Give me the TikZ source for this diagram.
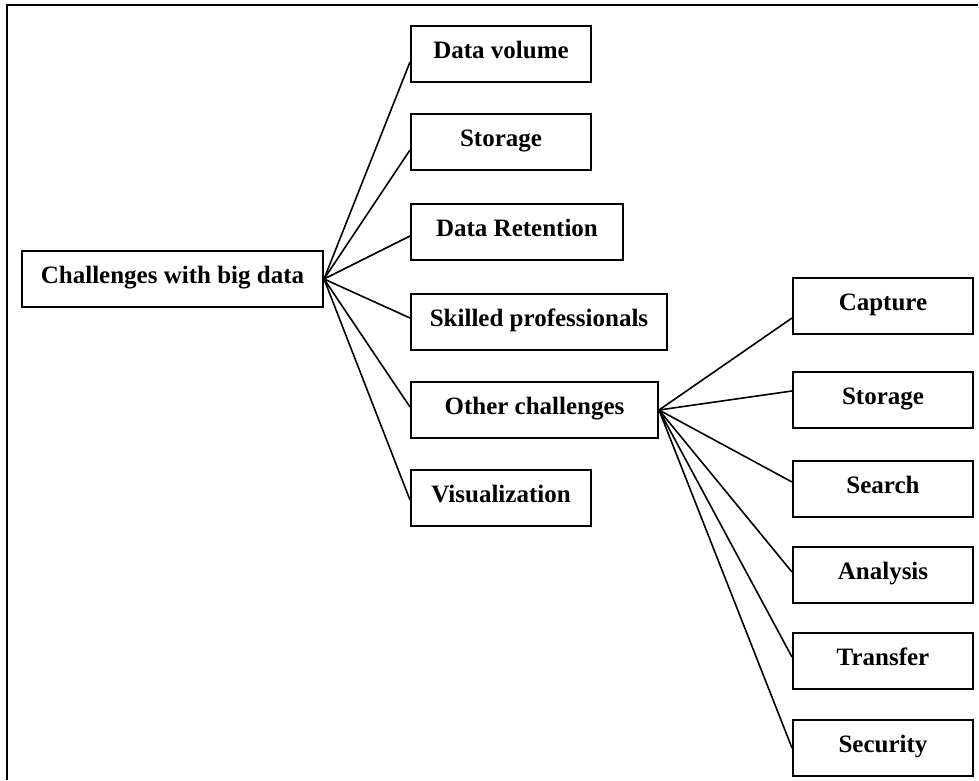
\documentclass[tikz,border=0pt]{standalone}
\usepackage{fontspec}
\setmainfont{Liberation Serif}
\usepackage{tikz}

\begin{document}
\begin{tikzpicture}[x=1pt, y=-1pt,
        box/.style={rectangle, draw, line width=2pt, inner xsep=0pt, inner ysep=1pt,
            text height=31pt, text depth=23pt, align=center,
            font=\fontsize{25}{28}\selectfont\bfseries},
        link/.style={line width=1.6pt}]
            \useasboundingbox (0,0) rectangle (979,780);
            % frame
            \draw[line width=2.6pt] (7,780) -- (7,5) -- (978,5);

            % root
            \node[box, minimum width=301pt] (root) at (172.5, 279) {Challenges with big data};

            % first level
            \node[box, anchor=west, minimum width=180pt] (vol) at (410, 54) {Data volume};
            \node[box, anchor=west, minimum width=180pt] (sto) at (410, 142) {Storage};
            \node[box, anchor=west, minimum width=212pt] (ret) at (410, 232) {Data Retention};
            \node[box, anchor=west, minimum width=256pt] (pro) at (410, 322) {Skilled professionals};
            \node[box, anchor=west, minimum width=247pt] (oth) at (410, 410) {Other challenges};
            \node[box, anchor=west, minimum width=180pt] (vis) at (410, 498) {Visualization};
            \draw[link] (root.east) -- ([yshift=-8pt]vol.west);
            \draw[link] (root.east) -- ([yshift=-8pt]sto.west);
            \draw[link] (root.east) -- ([yshift=-4pt]ret.west);
            \draw[link] (root.east) -- ([yshift=4pt]pro.west);
            \draw[link] (root.east) -- ([yshift=3pt]oth.west);
            \draw[link] (root.east) -- ([yshift=-2pt]vis.west);

            % second level
            \node[box, minimum width=180pt] (cap) at (883, 306) {Capture};
            \node[box, minimum width=180pt] (sto2) at (883, 400) {Storage};
            \node[box, minimum width=180pt] (sea) at (883, 489) {Search};
            \node[box, minimum width=180pt] (ana) at (883, 575) {Analysis};
            \node[box, minimum width=180pt] (tra) at (883, 661) {Transfer};
            \node[box, minimum width=180pt] (sec) at (883, 748) {Security};
            \draw[link] (oth.east) -- ([yshift=-12pt]cap.west);
            \draw[link] (oth.east) -- ([yshift=9pt]sto2.west);
            \draw[link] (oth.east) -- ([yshift=7pt]sea.west);
            \draw[link] (oth.east) -- ([yshift=3pt]ana.west);
            \draw[link] (oth.east) -- ([yshift=4pt]tra.west);
            \draw[link] (oth.east) -- (sec.west);
        \end{tikzpicture}
\end{document}
